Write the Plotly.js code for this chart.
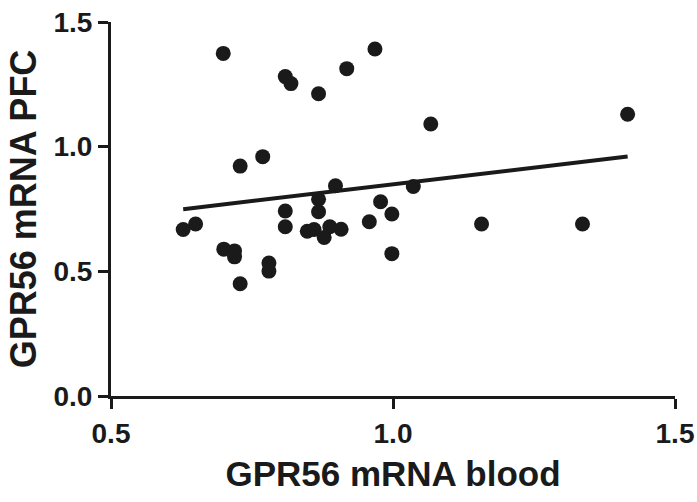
<!DOCTYPE html>
<html>
<head>
<meta charset="utf-8">
<script src="https://cdn.plot.ly/plotly-3.0.1.min.js"></script>
<style>html,body{margin:0;padding:0;background:#fff;}#chart{width:697px;height:502px;}</style>
</head>
<body>
<div id="chart"></div>
<script>
// GPR56 mRNA: blood (x) vs PFC (y)
var bloodValues = [0.699, 0.809, 0.819, 0.868, 0.918, 0.968, 0.729, 0.769, 0.898, 1.067, 1.416, 1.036,
  0.628, 0.650, 0.700, 0.719, 0.719, 0.729, 0.780, 0.780, 0.809, 0.809, 0.868, 0.868, 0.848, 0.860,
  0.878, 0.888, 0.908, 0.958, 0.978, 0.998, 0.998, 1.157, 1.336];
var pfcValues = [1.374, 1.281, 1.253, 1.212, 1.313, 1.392, 0.922, 0.960, 0.843, 1.091, 1.130, 0.840,
  0.668, 0.690, 0.589, 0.582, 0.558, 0.450, 0.533, 0.501, 0.742, 0.679, 0.789, 0.739, 0.661, 0.668,
  0.636, 0.679, 0.669, 0.699, 0.779, 0.730, 0.571, 0.690, 0.690];
var xTickVals = [0.5, 1.0, 1.5];
var yTickVals = [0.0, 0.5, 1.0, 1.5];
var xTitle = 'GPR56 mRNA blood';
var yTitle = 'GPR56 mRNA PFC';

// least-squares linear regression computed from the data
var n = bloodValues.length, sx = 0, sy = 0, sxx = 0, sxy = 0;
for (var i = 0; i < n; i++) { sx += bloodValues[i]; sy += pfcValues[i]; sxx += bloodValues[i]*bloodValues[i]; sxy += bloodValues[i]*pfcValues[i]; }
var slope = (n*sxy - sx*sy) / (n*sxx - sx*sx);
var intercept = (sy - slope*sx) / n;
var xMin = Math.min.apply(null, bloodValues), xMax = Math.max.apply(null, bloodValues);
var fitX = [xMin, xMax];
var fitY = fitX.map(function(v){ return intercept + slope*v; });

var ink = '#1a1a1a';
var font = 'Liberation Sans, Arial, sans-serif';

var traces = [
  {x: bloodValues, y: pfcValues, type: 'scatter', mode: 'markers',
   marker: {size: 15, color: ink}, hoverinfo: 'x+y'},
  {x: fitX, y: fitY, type: 'scatter', mode: 'lines',
   line: {color: ink, width: 4}}
];

var layout = {
  width: 697, height: 502,
  margin: {l: 111, r: 22, t: 22, b: 106},
  paper_bgcolor: '#fff', plot_bgcolor: '#fff',
  showlegend: false,
  font: {family: font, color: ink},
  xaxis: {
    range: [0.5, 1.5], tickvals: xTickVals, ticktext: xTickVals.map(function(v){return v.toFixed(1);}),
    showgrid: false, zeroline: false, showline: true, linecolor: ink, linewidth: 3,
    ticks: 'outside', ticklen: 10, tickwidth: 3, tickcolor: ink,
    tickfont: {family: font, size: 28, color: ink, weight: 'bold'},
    title: {text: xTitle, font: {family: font, size: 35, color: ink, weight: 'bold'}, standoff: 14},
    automargin: false
  },
  yaxis: {
    range: [0, 1.5], tickvals: yTickVals, ticktext: yTickVals.map(function(v){return v.toFixed(1);}),
    showgrid: false, zeroline: false, showline: true, linecolor: ink, linewidth: 3,
    ticks: 'outside', ticklen: 10, tickwidth: 3, tickcolor: ink,
    tickfont: {family: font, size: 28, color: ink, weight: 'bold'},
    title: {text: yTitle, font: {family: font, size: 36, color: ink, weight: 'bold'}, standoff: 6},
    automargin: false
  }
};

Plotly.newPlot('chart', traces, layout, {staticPlot: true, displayModeBar: false});
</script>
</body>
</html>
